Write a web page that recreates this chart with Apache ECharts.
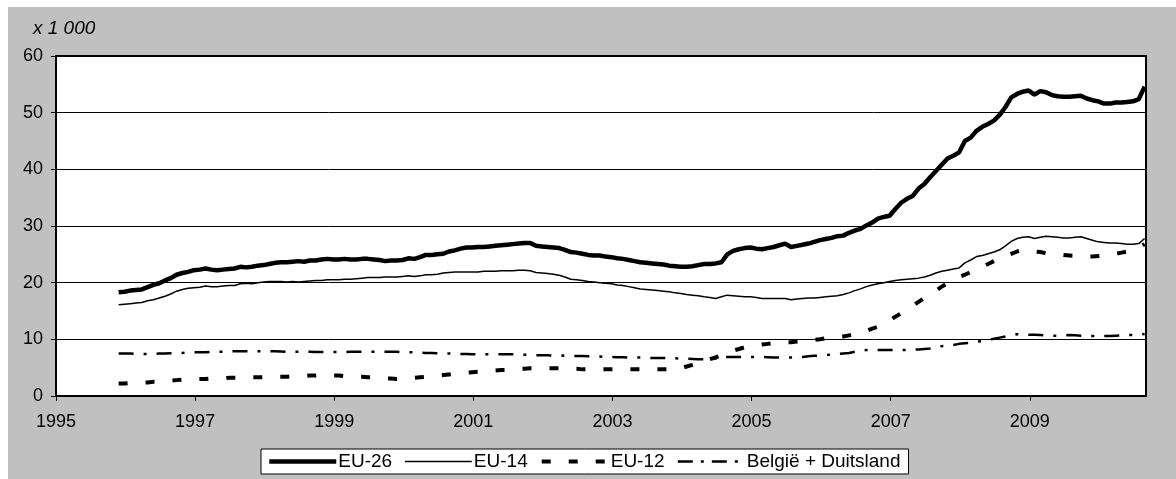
<!DOCTYPE html>
<html>
<head>
<meta charset="utf-8">
<script src="https://cdn.jsdelivr.net/npm/echarts@6/dist/echarts.min.js"></script>
<style>
  html, body { margin: 0; padding: 0; background: #ffffff; }
  #chart { position: absolute; left: 8px; top: 7px; width: 1168px; height: 472px; background: #c0c0c0; }
</style>
</head>
<body>
<div id="chart"></div>
<script>
// Monthly data, Jan 1996 .. Oct 2010 (x 1 000)
const startYear = 1995.9;       // position of first month on the year axis
const xTickLabels = [1995, 1997, 1999, 2001, 2003, 2005, 2007, 2009];
const yTicks = [0, 10, 20, 30, 40, 50, 60];
const seriesNames = ['EU-26', 'EU-14', 'EU-12', 'België + Duitsland'];

const eu26 = [
  18.3, 18.4, 18.6, 18.7, 18.8, 19.2, 19.6, 19.9, 20.4, 20.8, 21.4, 21.7,
  21.9, 22.2, 22.3, 22.5, 22.3, 22.2, 22.3, 22.4, 22.5, 22.8, 22.7, 22.8,
  23.0, 23.1, 23.3, 23.5, 23.6, 23.6, 23.7, 23.8, 23.7, 23.9, 23.9, 24.1,
  24.2, 24.1, 24.1, 24.2, 24.1, 24.1, 24.2, 24.2, 24.1, 24.0, 23.8, 23.9,
  23.9, 24.0, 24.3, 24.2, 24.5, 24.9, 24.9, 25.0, 25.1, 25.5, 25.7, 26.0,
  26.2, 26.2, 26.3, 26.3, 26.4, 26.5, 26.6, 26.7, 26.8, 26.9, 27.0, 27.0,
  26.5, 26.4, 26.3, 26.2, 26.1, 25.8, 25.4, 25.3, 25.1, 24.9, 24.8, 24.8,
  24.6, 24.5, 24.3, 24.2, 24.0, 23.8, 23.6, 23.5, 23.4, 23.3, 23.2, 23.0,
  22.9, 22.8, 22.8, 22.9, 23.1, 23.3, 23.3, 23.4, 23.6, 25.0, 25.6, 25.9,
  26.1, 26.2, 26.0, 25.9, 26.1, 26.3, 26.6, 26.9, 26.3, 26.5, 26.7, 26.9,
  27.2, 27.5, 27.7, 27.9, 28.2, 28.3, 28.8, 29.2, 29.5, 30.1, 30.6, 31.3,
  31.6, 31.8, 33.0, 34.1, 34.8, 35.3, 36.6, 37.4, 38.6, 39.7, 40.8, 41.9,
  42.4, 43.0, 45.0, 45.6, 46.8, 47.5, 48.0, 48.6, 49.6, 51.0, 52.7, 53.3,
  53.7, 53.9, 53.2, 53.8, 53.6, 53.1, 52.9, 52.8, 52.8, 52.9, 53.0, 52.5,
  52.2, 52.0, 51.6, 51.6, 51.8, 51.8, 51.9, 52.0, 52.4, 54.6
];

const eu14 = [
  16.1, 16.2, 16.3, 16.4, 16.5, 16.8, 17.0, 17.3, 17.6, 18.0, 18.5, 18.8,
  19.0, 19.1, 19.2, 19.4, 19.3, 19.3, 19.4, 19.5, 19.5, 19.8, 19.9, 19.8,
  20.0, 20.1, 20.2, 20.2, 20.2, 20.1, 20.2, 20.1, 20.2, 20.3, 20.4, 20.4,
  20.5, 20.5, 20.5, 20.6, 20.6, 20.7, 20.8, 20.9, 20.9, 20.9, 21.0, 21.0,
  21.0, 21.1, 21.2, 21.1, 21.2, 21.4, 21.4, 21.5, 21.7, 21.8, 21.9, 21.9,
  21.9, 21.9, 21.9, 22.0, 22.0, 22.0, 22.1, 22.1, 22.1, 22.2, 22.2, 22.1,
  21.8, 21.7, 21.6, 21.5, 21.3, 21.0, 20.6, 20.5, 20.4, 20.2, 20.1, 20.0,
  19.9, 19.8, 19.6, 19.5, 19.3, 19.1, 18.9, 18.8, 18.7, 18.6, 18.5, 18.4,
  18.2, 18.1, 17.9, 17.8, 17.7, 17.5, 17.4, 17.2, 17.5, 17.8, 17.7, 17.6,
  17.5, 17.5, 17.4, 17.2, 17.2, 17.2, 17.2, 17.2, 17.0, 17.1, 17.2, 17.3,
  17.3, 17.4, 17.5, 17.6, 17.7, 17.9, 18.2, 18.6, 18.9, 19.3, 19.6, 19.8,
  20.0, 20.2, 20.4, 20.5, 20.6, 20.7, 20.8, 21.0, 21.3, 21.7, 22.0, 22.2,
  22.4, 22.6, 23.5, 24.0, 24.6, 24.8, 25.1, 25.4, 25.8, 26.5, 27.3, 27.8,
  28.0, 28.1, 27.8, 28.0, 28.2, 28.1, 28.0, 27.9, 27.9, 28.0, 28.1, 27.8,
  27.5, 27.2, 27.1, 27.0, 27.0, 26.9, 26.8, 26.8, 26.9, 27.8
];

const eu12 = [
  2.2, 2.2, 2.3, 2.3, 2.4, 2.4, 2.5, 2.5, 2.6, 2.7, 2.8, 2.9,
  2.9, 3.0, 3.0, 3.0, 3.1, 3.1, 3.1, 3.2, 3.2, 3.2, 3.2, 3.3,
  3.3, 3.3, 3.3, 3.4, 3.4, 3.4, 3.5, 3.5, 3.5, 3.6, 3.6, 3.7,
  3.7, 3.6, 3.6, 3.5, 3.5, 3.4, 3.4, 3.3, 3.3, 3.2, 3.1, 3.1,
  3.0, 3.0, 3.1, 3.2, 3.3, 3.4, 3.5, 3.6, 3.7, 3.8, 3.9, 4.0,
  4.1, 4.2, 4.3, 4.4, 4.4, 4.5, 4.6, 4.6, 4.7, 4.8, 4.8, 4.9,
  4.9, 4.9, 4.9, 4.9, 4.9, 4.9, 4.8, 4.8, 4.7, 4.7, 4.7, 4.7,
  4.7, 4.7, 4.7, 4.7, 4.7, 4.7, 4.7, 4.7, 4.7, 4.7, 4.7, 4.7,
  4.7, 4.9, 5.2, 5.5, 5.8, 6.2, 6.5, 6.8, 7.2, 7.6, 8.0, 8.3,
  8.6, 8.7, 8.9, 9.1, 9.2, 9.3, 9.4, 9.5, 9.5, 9.6, 9.7, 9.8,
  9.9, 10.0, 10.2, 10.3, 10.4, 10.5, 10.7, 10.9, 11.1, 11.5, 11.9, 12.2,
  12.6, 13.3, 14.0, 14.6, 15.2, 15.9, 16.6, 17.3, 17.9, 18.6, 19.3, 19.9,
  20.5, 21.0, 21.4, 21.9, 22.4, 22.8, 23.3, 23.8, 24.3, 24.7, 25.1, 25.5,
  25.8, 25.7, 25.5, 25.4, 25.2, 25.1, 25.0, 24.9, 24.8, 24.7, 24.6, 24.6,
  24.6, 24.7, 24.8, 24.9, 25.1, 25.3, 25.5, 25.8, 26.1, 26.8
];

const beDe = [
  7.5, 7.5, 7.5, 7.4, 7.4, 7.4, 7.45, 7.5, 7.5, 7.55, 7.6, 7.6,
  7.7, 7.7, 7.7, 7.7, 7.8, 7.8, 7.8, 7.9, 7.9, 7.9, 7.9, 7.9,
  7.9, 7.9, 7.9, 7.9, 7.85, 7.8, 7.8, 7.8, 7.8, 7.8, 7.75, 7.75,
  7.75, 7.75, 7.75, 7.75, 7.8, 7.8, 7.8, 7.8, 7.8, 7.8, 7.8, 7.8,
  7.8, 7.75, 7.7, 7.7, 7.65, 7.6, 7.6, 7.55, 7.5, 7.5, 7.45, 7.4,
  7.4, 7.35, 7.35, 7.35, 7.35, 7.35, 7.35, 7.35, 7.35, 7.3, 7.3, 7.25,
  7.2, 7.2, 7.2, 7.15, 7.15, 7.1, 7.1, 7.05, 7.05, 7.0, 7.0, 6.95,
  6.9, 6.9, 6.85, 6.85, 6.8, 6.8, 6.8, 6.75, 6.7, 6.7, 6.7, 6.65,
  6.65, 6.6, 6.6, 6.55, 6.5, 6.5, 6.5, 6.6, 6.8, 6.9, 6.9, 6.9,
  6.9, 6.9, 6.9, 6.9, 6.85, 6.8, 6.8, 6.8, 6.8, 6.85, 6.9, 7.0,
  7.1, 7.15, 7.2, 7.3, 7.4, 7.5, 7.6, 7.8, 8.0, 8.1, 8.1, 8.1,
  8.1, 8.1, 8.1, 8.1, 8.15, 8.2, 8.2, 8.3, 8.4, 8.6, 8.8, 8.9,
  9.0, 9.2, 9.3, 9.4, 9.6, 9.7, 9.9, 10.1, 10.3, 10.5, 10.7, 10.9,
  10.9, 10.8, 10.8, 10.75, 10.7, 10.65, 10.65, 10.7, 10.75, 10.7, 10.65, 10.6,
  10.6, 10.6, 10.6, 10.6, 10.65, 10.7, 10.75, 10.75, 10.8, 10.95
];

function toPoints(arr) {
  return arr.map((v, i) => [startYear + i / 12, v]);
}

const FONT = '"Liberation Sans", Arial, sans-serif';
const styles = [
  { color: '#000', width: 4.5 },
  { color: '#000', width: 1.5 },
  { color: '#000', width: 4, type: [9, 18] },
  { color: '#000', width: 2.5, type: [15, 10, 3, 10] }
];
const legendStyles = [
  { color: '#000', width: 4.5 },
  { color: '#000', width: 1.5 },
  { color: '#000', width: 4, type: [9, 18] },
  { color: '#000', width: 2.5, type: [15, 8, 3, 8] }
];

const chart = echarts.init(document.getElementById('chart'), null, { renderer: 'canvas' });

const option = {
  animation: false,
  backgroundColor: '#c0c0c0',
  title: {
    text: 'x 1 000',
    left: 25, top: 12, padding: 0,
    textStyle: { fontFamily: FONT, fontSize: 19, fontStyle: 'italic', fontWeight: 'normal', color: '#000' }
  },
  grid: {
    left: 48, right: 30, top: 49, bottom: 83,
    show: true, backgroundColor: '#ffffff', borderColor: '#000', borderWidth: 2
  },
  legend: {
    left: 253, top: 442,
    itemWidth: 67, itemHeight: 14, itemGap: 12,
    padding: [3, 8, 3, 6],
    backgroundColor: '#ffffff', borderColor: '#000', borderWidth: 1, borderRadius: 0,
    itemStyle: { opacity: 0 },
    textStyle: { fontFamily: FONT, fontSize: 19, color: '#000', padding: [0, 0, 0, -3] },
    data: seriesNames.map((n, i) => ({ name: n, lineStyle: legendStyles[i] }))
  },
  xAxis: {
    type: 'value',
    min: 1995, max: 2010.67, interval: 2,
    splitLine: { show: false },
    axisLine: { show: true, lineStyle: { color: '#000', width: 2 } },
    axisTick: { show: true, length: 5, customValues: xTickLabels, lineStyle: { color: '#000', width: 1 } },
    axisLabel: {
      customValues: xTickLabels,
      fontFamily: FONT, fontSize: 18, color: '#000', margin: 17,
      formatter: v => String(v)
    }
  },
  yAxis: {
    type: 'value',
    min: 0, max: 60, interval: 10,
    splitLine: { show: true, lineStyle: { color: '#000', width: 1 } },
    axisLine: { show: true, lineStyle: { color: '#000', width: 2 } },
    axisTick: { show: true, length: 5, lineStyle: { color: '#000', width: 1 } },
    axisLabel: { fontFamily: FONT, fontSize: 18, color: '#000', margin: 13 }
  },
  series: [
    { name: seriesNames[0], type: 'line', symbol: 'none', z: 5, data: toPoints(eu26), lineStyle: styles[0], itemStyle: { color: '#000' } },
    { name: seriesNames[1], type: 'line', symbol: 'none', z: 4, data: toPoints(eu14), lineStyle: styles[1], itemStyle: { color: '#000' } },
    { name: seriesNames[2], type: 'line', symbol: 'none', z: 3, data: toPoints(eu12), lineStyle: styles[2], itemStyle: { color: '#000' } },
    { name: seriesNames[3], type: 'line', symbol: 'none', z: 2, data: toPoints(beDe), lineStyle: styles[3], itemStyle: { color: '#000' } }
  ]
};
chart.setOption(option);
</script>
</body>
</html>
